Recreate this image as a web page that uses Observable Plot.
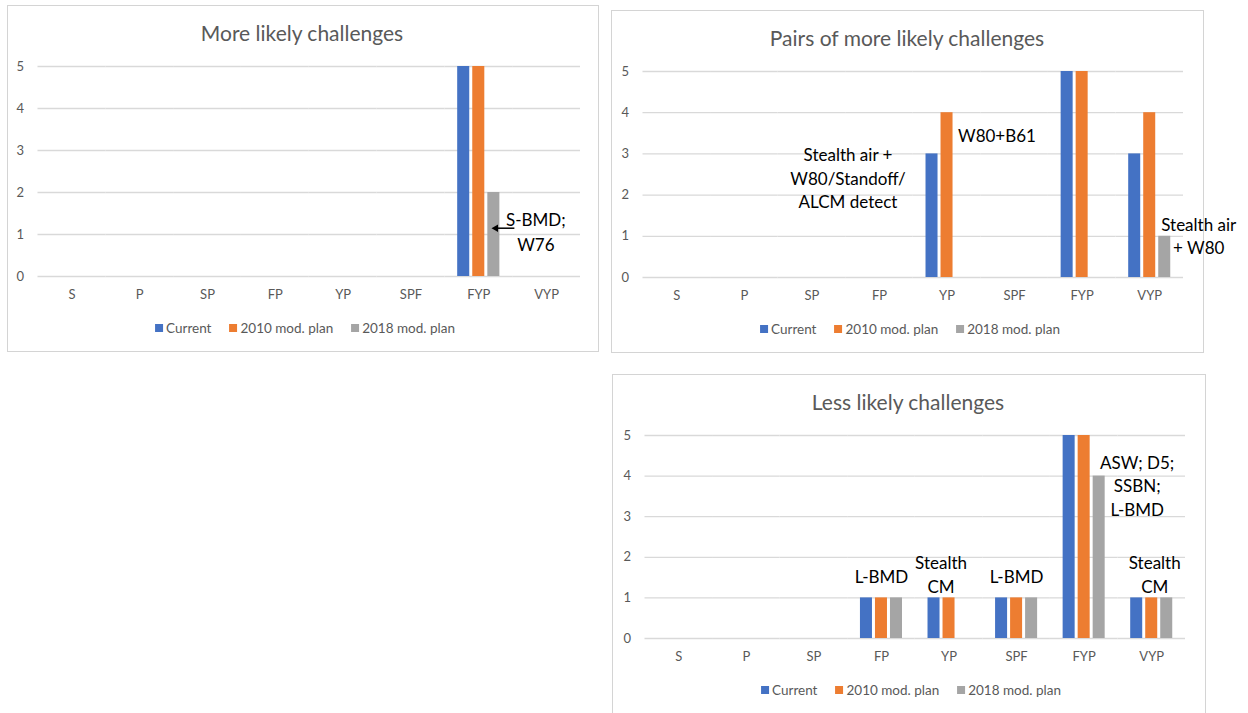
<!DOCTYPE html>
<html><head><meta charset="utf-8">
<script src="https://cdn.jsdelivr.net/npm/d3@7"></script>
<script src="https://cdn.jsdelivr.net/npm/@observablehq/plot@0.6"></script>
<style>
body{margin:0;background:#fff;font-family:Lato,"Open Sans",sans-serif;width:1248px;height:713px;overflow:hidden;position:relative;}
.panel{position:absolute;border:1px solid #d4d4d4;box-sizing:border-box;}
.title{position:absolute;font-size:21px;color:#595959;transform:translate(-50%,-50%);white-space:nowrap;}
.chart{position:absolute;}
.chart svg{overflow:visible;max-width:none;}
.legend{position:absolute;display:flex;align-items:center;font-size:13.5px;color:#595959;transform:translate(-50%,-50%);white-space:nowrap;}
.sw{display:inline-block;width:8px;height:8px;margin-right:3px;}
.item{display:flex;align-items:center;margin:0 9px;}
</style></head><body>
<script>
// ---- data ----
const categories = ["S","P","SP","FP","YP","SPF","FYP","VYP"];
const seriesNames = ["Current","2010 mod. plan","2018 mod. plan"];
const colors = ["#4472C4","#ED7D31","#A5A5A5"];
const yTicks = [0,1,2,3,4,5];

const moreTitle = "More likely challenges";
const moreCurrent = [0,0,0,0,0,0,5,0];
const more2010    = [0,0,0,0,0,0,5,0];
const more2018    = [0,0,0,0,0,0,2,0];

const pairsTitle = "Pairs of more likely challenges";
const pairsCurrent = [0,0,0,0,3,0,5,3];
const pairs2010    = [0,0,0,0,4,0,5,4];
const pairs2018    = [0,0,0,0,0,0,0,1];

const lessTitle = "Less likely challenges";
const lessCurrent = [0,0,0,1,1,1,5,1];
const less2010    = [0,0,0,1,1,1,5,1];
const less2018    = [0,0,0,1,0,1,4,1];

// annotations: category, series anchor, y value, text
const moreNotes = [
  {cat:"FYP", series:"2018 mod. plan", y:1.1, text:"S-BMD;\nW76"}
];
const moreArrow = [{cat:"FYP", series:"2018 mod. plan", y:1.15}];
const pairsNotes = [
  {cat:"YP", series:"Current", y:2.43, text:"Stealth air +\nW80/Standoff/\nALCM detect"},
  {cat:"YP", series:"2018 mod. plan", y:3.47, text:"W80+B61"},
  {cat:"VYP", series:"2018 mod. plan", y:1.03, text:"Stealth air\n+ W80"}
];
const lessNotes = [
  {cat:"FP", series:"2010 mod. plan", y:1.55, text:"L-BMD"},
  {cat:"YP", series:"2010 mod. plan", y:1.6, text:"Stealth\nCM"},
  {cat:"SPF", series:"2010 mod. plan", y:1.55, text:"L-BMD"},
  {cat:"FYP", series:"2018 mod. plan", y:3.79, text:"ASW; D5;\nSSBN;\nL-BMD"},
  {cat:"VYP", series:"2010 mod. plan", y:1.6, text:"Stealth\nCM"}
];

// ---- layout / styles ----
const noteStyle = {
  more: [{dx:42, anchor:"middle", lineHeight:1.5}],
  pairs: [{dx:-84, anchor:"middle"}, {dx:-4, anchor:"start"}, {dx:34, anchor:"middle"}],
  less: [{dx:0, anchor:"middle"}, {dx:-8, anchor:"middle"}, {dx:0, anchor:"middle"}, {dx:38, anchor:"middle"}, {dx:3, anchor:"middle"}]
};

function rowsOf(a,b,c){
  const rows=[];
  categories.forEach((cat,i)=>{
    [a,b,c].forEach((arr,j)=>rows.push({cat, series:seriesNames[j], value:arr[i]}));
  });
  return rows;
}

function addDiv(cls, css, html){
  const d=document.createElement("div");
  d.className=cls; Object.assign(d.style, css);
  if(html!==undefined) d.innerHTML=html;
  document.body.appendChild(d); return d;
}

function legend(cx, cy){
  const d=addDiv("legend",{left:cx+"px", top:cy+"px"});
  seriesNames.forEach((s,i)=>{
    const it=document.createElement("span"); it.className="item";
    it.innerHTML=`<span class="sw" style="background:${colors[i]}"></span>${s}`;
    d.appendChild(it);
  });
}

function panel(cfg){
  addDiv("panel",{left:cfg.box[0]+"px",top:cfg.box[1]+"px",width:cfg.box[2]+"px",height:cfg.box[3]+"px"});
  addDiv("title",{left:cfg.titlePos[0]+"px",top:cfg.titlePos[1]+"px"}, cfg.title);
  const rows = cfg.rows;
  const noteMarks = cfg.notes.map((n,i)=>Plot.text([n],{
    fx:"cat", x:"series", y:"y", text:"text",
    dx: cfg.noteStyle[i].dx, textAnchor: cfg.noteStyle[i].anchor,
    fill:"#000", fontSize:17, lineHeight:cfg.noteStyle[i].lineHeight || 1.38, lineAnchor:"middle"
  }));
  const extra = cfg.arrow ? [
    Plot.tickY(cfg.arrow,{fx:"cat", x:"series", y:"y", stroke:"#000", strokeWidth:1.5, dx:15, insetLeft:-6}),
    Plot.dot(cfg.arrow,{fx:"cat", x:"series", y:"y", symbol:"triangle2", r:3.6, rotate:-90, fill:"#000", stroke:"none", dx:2})
  ] : [];
  const chart = Plot.plot({
    width: cfg.width, height: cfg.height,
    marginLeft: cfg.m[0], marginRight: cfg.m[1], marginTop: cfg.m[2], marginBottom: cfg.m[3],
    style:{fontFamily:"Lato", fontSize:"13px", color:"#595959", background:"transparent", overflow:"visible"},
    fx:{domain:categories, padding:0, label:null, tickSize:0, tickPadding:13, axis:"bottom", round:false},
    x:{domain:seriesNames, axis:null, paddingInner:0.2, paddingOuter:0.85, round:false},
    y:{domain:[0,5], ticks:yTicks, tickFormat:"d", tickSize:0, tickPadding:14, label:null},
    color:{domain:seriesNames, range:colors},
    marks:[
      Plot.ruleY(yTicks,{stroke:"#d9d9d9", strokeWidth:1.3}),
      Plot.barY(rows,{fx:"cat", x:"series", y:"value", fill:"series"}),
      ...noteMarks, ...extra
    ]
  });
  const c=addDiv("chart",{left:cfg.svgPos[0]+"px", top:cfg.svgPos[1]+"px"});
  c.appendChild(chart);
  legend(cfg.legendPos[0], cfg.legendPos[1]);
}

panel({
  box:[7,5,592,347], title:moreTitle, titlePos:[302,32],
  svgPos:[0,45], width:600, height:266, m:[37.5,20,21,35],
  rows:rowsOf(moreCurrent,more2010,more2018), notes:moreNotes, noteStyle:noteStyle.more, arrow:moreArrow,
  legendPos:[305,328]
});
panel({
  box:[611,10,593,343], title:pairsTitle, titlePos:[907,37],
  svgPos:[600,50], width:610, height:262, m:[42.5,27,21,35],
  rows:rowsOf(pairsCurrent,pairs2010,pairs2018), notes:pairsNotes, noteStyle:noteStyle.pairs,
  legendPos:[910,329]
});
panel({
  box:[612,374,594,360], title:lessTitle, titlePos:[908,401],
  svgPos:[600,414], width:610, height:259, m:[44.5,25,21,35],
  rows:rowsOf(lessCurrent,less2010,less2018), notes:lessNotes, noteStyle:noteStyle.less,
  legendPos:[911,690]
});
</script>
</body></html>
